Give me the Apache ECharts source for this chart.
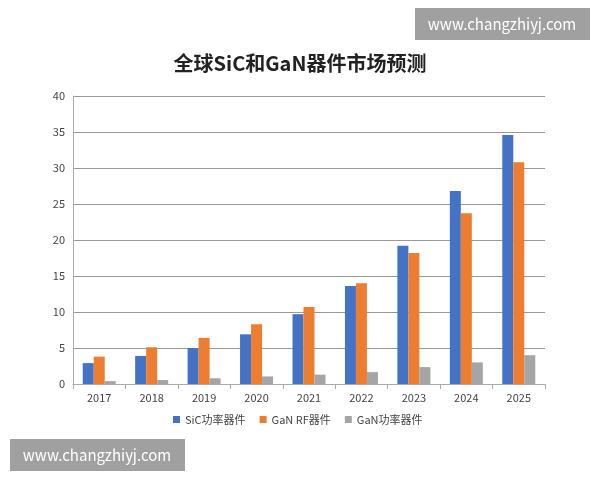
<!DOCTYPE html>
<html><head><meta charset="utf-8">
<script src="https://cdn.jsdelivr.net/npm/echarts@6/dist/echarts.min.js"></script>
<style>body{margin:0;background:#fff}#c{width:600px;height:480px}</style>
</head><body><div id="c"></div>
<script>
const years = ['2017','2018','2019','2020','2021','2022','2023','2024','2025'];
const sicPower = [2.9,3.9,5.0,6.9,9.7,13.6,19.2,26.8,34.6];
const ganRF = [3.8,5.1,6.4,8.3,10.7,14.0,18.2,23.7,30.8];
const ganPower = [0.4,0.55,0.8,1.05,1.3,1.65,2.35,3.0,4.0];
const names = ['SiC功率器件','GaN RF器件','GaN功率器件'];
const colors = ['#4472c4','#ed7d31','#a5a5a5'];
const font = '"Noto Sans CJK SC", sans-serif';
const chart = echarts.init(document.getElementById('c'));
chart.setOption({
  animation:false,
  title:{text:'全球SiC和GaN器件市场预测',left:'center',top:48,textStyle:{fontFamily:font,fontSize:20,fontWeight:'bold',color:'#222'}},
  grid:{left:73,right:55,top:96,bottom:96},
  legend:{bottom:50,left:168,itemWidth:7,itemHeight:7,itemGap:14,textStyle:{fontFamily:font,fontSize:11,color:'#444'},
    data:names.map(n=>({name:n,icon:'rect'}))},
  xAxis:{type:'category',data:years,axisLine:{lineStyle:{color:'#aaa'}},axisTick:{show:true,lineStyle:{color:'#aaa'}},
    axisLabel:{color:'#444',fontSize:11,fontFamily:font}},
  yAxis:{type:'value',min:0,max:40,interval:5,axisLine:{show:true,lineStyle:{color:'#aaa'}},
    splitLine:{lineStyle:{color:'#999'}},axisLabel:{color:'#444',fontSize:11,fontFamily:font}},
  series:[sicPower,ganRF,ganPower].map((d,i)=>({name:names[i],type:'bar',data:d,itemStyle:{color:colors[i]},barWidth:11,barGap:'0%',barCategoryGap:'30%'})),
  graphic:[
    {type:'rect',shape:{x:415,y:8,width:175,height:32},style:{fill:'rgba(150,150,150,0.9)'}},
    {type:'text',x:502,y:24,style:{text:'www.changzhiyj.com',fill:'#fff',font:'15px '+font,align:'center',verticalAlign:'middle'}},
    {type:'rect',shape:{x:10,y:439,width:175,height:32},style:{fill:'rgba(150,150,150,0.9)'}},
    {type:'text',x:97,y:455,style:{text:'www.changzhiyj.com',fill:'#fff',font:'15px '+font,align:'center',verticalAlign:'middle'}}
  ]
});
</script></body></html>
